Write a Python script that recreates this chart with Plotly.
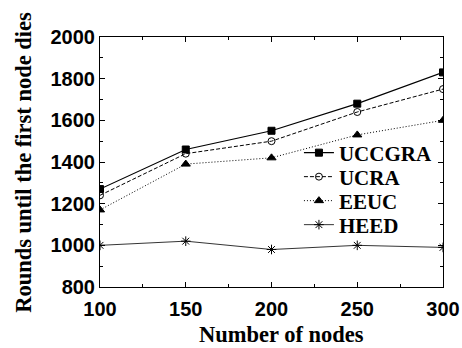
import plotly.graph_objects as go

nodes = [100, 150, 200, 250, 300]
uccgra = [1270, 1460, 1550, 1680, 1830]
ucra = [1240, 1440, 1500, 1640, 1750]
eeuc = [1170, 1390, 1420, 1530, 1600]
heed = [1000, 1020, 980, 1000, 990]

x_ticks = [100, 150, 200, 250, 300]
y_ticks = [800, 1000, 1200, 1400, 1600, 1800, 2000]

SERIF = "Liberation Serif, Times New Roman, serif"
SANS = "Liberation Sans, Arial, sans-serif"

fig = go.Figure()
series = [
    ("UCCGRA", uccgra, "solid", "square", 7, 1.2, "legend"),
    ("UCRA", ucra, "4px,2px", "circle-open", 7, 1.0, "legend2"),
    ("EEUC", eeuc, "1px,2px", "triangle-up", 8, 1.0, "legend3"),
    ("HEED", heed, "solid", "asterisk-open", 8, 0.8, "legend4"),
]
for name, vals, dash, sym, size, lw, lg in series:
    fig.add_trace(go.Scatter(
        x=nodes, y=vals, name=name, mode="lines+markers", legend=lg,
        line=dict(color="black", width=lw, dash=dash),
        marker=dict(symbol=sym, size=size, color="black",
                    line=dict(color="black", width=1)),
    ))

axis_common = dict(
    showline=True, linecolor="black", linewidth=1, mirror="ticks",
    ticks="inside", ticklen=5, tickcolor="black", showgrid=False, zeroline=False,
    automargin=False,
    tickfont=dict(family=SANS, size=20, color="black", weight="bold"),
)

legend_font = dict(family=SERIF, size=21, color="black", weight="bold")
def leg(y):
    return dict(x=0.58, y=y, xanchor="left", yanchor="middle",
                bgcolor="rgba(0,0,0,0)", font=legend_font, itemwidth=30)

title_font = dict(family=SERIF, size=22.5, color="black", weight="bold")

fig.update_layout(
    width=462, height=348,
    margin=dict(l=100, r=19, t=37, b=61),
    paper_bgcolor="white", plot_bgcolor="white",
    xaxis=dict(range=[100, 300], tickvals=x_ticks, ticklabelstandoff=4,
               minor=dict(ticks="inside", ticklen=3, dtick=25, tickcolor="black", showgrid=False),
               **axis_common),
    yaxis=dict(range=[800, 2000], tickvals=y_ticks,
               minor=dict(ticks="inside", ticklen=3, dtick=100, tickcolor="black", showgrid=False),
               **axis_common),
    legend=leg(0.536),
    legend2=leg(0.44),
    legend3=leg(0.344),
    legend4=leg(0.248),
    font=dict(family=SERIF),
    showlegend=True,
    annotations=[
        dict(text="Number of nodes", xref="paper", yref="paper", x=0.53, y=-0.244,
             xanchor="center", yanchor="bottom", borderpad=0, showarrow=False, font=title_font),
        dict(text="Rounds until the first node dies", xref="paper", yref="paper",
             x=-0.225, y=0.5, xanchor="center", yanchor="middle", textangle=-90,
             showarrow=False, font=title_font),
    ],
)

fig.write_html("out.html")
